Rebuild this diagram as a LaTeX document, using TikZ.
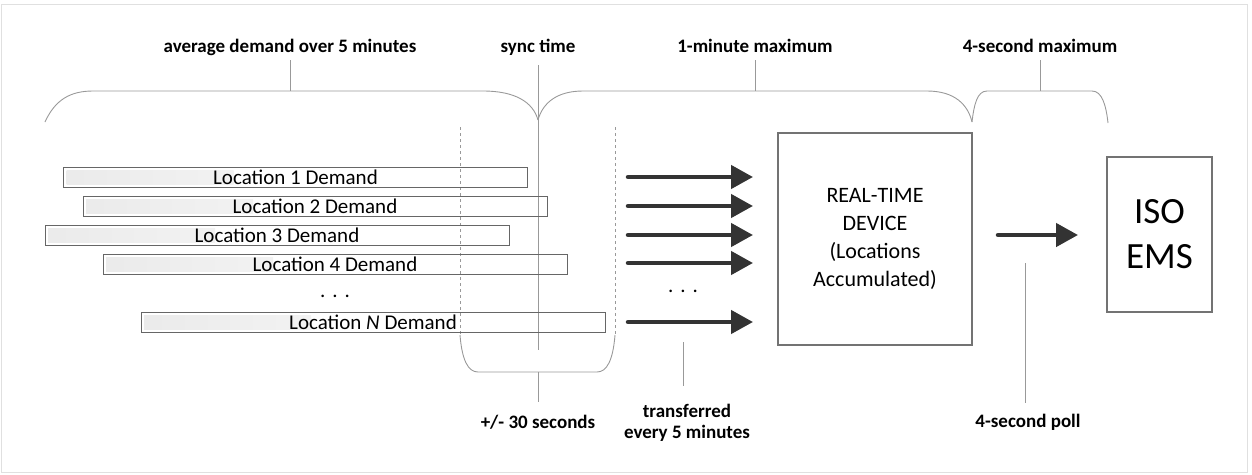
\documentclass[tikz,border=0pt]{standalone}
\usepackage{fontspec}
\setmainfont{Carlito}
\usetikzlibrary{arrows.meta}

\begin{document}
\begin{tikzpicture}[x=1pt, y=-1pt,
		bar/.style={draw=black!60, line width=1pt, minimum width=464pt, minimum height=20pt, inner sep=0pt,
			font=\fontsize{21}{24}\selectfont,
			path picture={\shade[left color=black!8, right color=white]
				([xshift=3pt, yshift=-3pt]path picture bounding box.north west)
				rectangle ([xshift=170pt, yshift=3pt]path picture bounding box.south west);}},
		box/.style={draw=black!55, line width=1.1pt, inner sep=0pt, align=center},
		lbl/.style={font=\bfseries\fontsize{19}{21}\selectfont, inner sep=0pt, align=center},
		guide/.style={draw=black!40, line width=0.9pt},
		sep/.style={draw=black!40, line width=0.8pt, dash pattern=on 3pt off 3pt},
		flow/.style={draw=black!80, line width=4.5pt, line cap=round, -{Triangle[length=22pt, width=23pt]}}]
	\useasboundingbox (0,0) rectangle (1252,474);
	\draw[black!12] (1,4) rectangle (1247,472);

	% labels on top
	\node[lbl, anchor=base] (avgLbl) at (290,52) {average demand over 5 minutes};
	\node[lbl, anchor=base] (syncLbl) at (538,52) {sync time};
	\node[lbl, anchor=base] (minLbl) at (755,52) {1-minute maximum};
	\node[lbl, anchor=base] (secLbl) at (1040,52) {4-second maximum};

	\coordinate (avgTop) at (290,91);
	\coordinate (syncFoot) at (538,350);
	\coordinate (minTop) at (755,91);
	\coordinate (secTop) at (1040,91);
	\draw[guide] ([yshift=-8pt]avgLbl.base) -- (avgTop);
	\draw[guide] ([yshift=-13pt]syncLbl.base) -- (syncFoot);
	\draw[guide] ([yshift=-8pt]minLbl.base) -- (minTop);
	\draw[guide] ([yshift=-8pt]secLbl.base) -- (secTop);

	% braces
	\draw[guide] (45,122) .. controls (55,100) and (70,91) .. (93,91) -- (483,91)
		.. controls (515,91) and (533,102) .. (538,120);
	\draw[guide] (538,120) .. controls (543,102) and (558,91) .. (583,91) -- (927,91)
		.. controls (955,91) and (968,105) .. (972,122);
	\draw[guide] (972,122) .. controls (974,105) and (977,91) .. (987,91) -- (1092,91)
		.. controls (1102,91) and (1106,105) .. (1108,123);
	\draw[sep] (460,127) -- (460,335);
	\draw[sep] (615,127) -- (615,335);
	\draw[guide] (460,335) .. controls (462,360) and (468,372) .. (478,372) -- (597,372)
		.. controls (607,372) and (613,360) .. (615,335);

	% demand bars
	\foreach \x/\y/\n in {295.5/177/1, 315/206/2, 277/235/3, 335/264/4}
		\node[bar] (loc\n) at (\x,\y) {Location \n\ Demand};
	\node[font=\fontsize{21}{24}\selectfont, anchor=base] (dotsL) at (335,297) {.\,\,.\,\,.};
	\node[bar] (locN) at (373,322) {Location \textit{N} Demand};

	% arrows into the device
	\foreach \y [count=\i] in {177,206,235,263,322} {
		\coordinate (tail\i) at (628,\y);
		\coordinate (tip\i) at (753,\y);
		\draw[flow] (tail\i) -- (tip\i);
	}
	\node[font=\fontsize{21}{24}\selectfont, anchor=base] (dotsR) at (683,292) {.\,\,.\,\,.};

	\node[box, minimum width=194pt, minimum height=212pt, font=\fontsize{22}{28}\selectfont]
		(rtd) at (875,239) {REAL-TIME\\DEVICE\\(Locations\\Accumulated)};
	\node[box, minimum width=105pt, minimum height=155pt, font=\fontsize{37}{45}\selectfont]
		(iso) at (1159.5,234.5) {ISO\\EMS};

	\coordinate (pollTail) at (998,235);
	\coordinate (pollTip) at (1078,235);
	\draw[flow] (pollTail) -- (pollTip);

	% labels below
	\node[lbl, anchor=base] (plusLbl) at (538,428) {+/- 30 seconds};
	\node[lbl] (xferLbl) at (687,423) {transferred\\every 5 minutes};
	\node[lbl, anchor=base] (pollLbl) at (1028,427) {4-second poll};

	\coordinate (syncLow) at (538,372);
	\coordinate (xferTop) at (683,342);
	\coordinate (pollTop) at (1025,263);
	\draw[guide] (syncLow) -- ([yshift=26pt]plusLbl.base);
	\draw[guide] (xferTop) -- ([xshift=-4pt, yshift=18pt]xferLbl.north);
	\draw[guide] (pollTop) -- ([xshift=-3pt, yshift=24pt]pollLbl.base);
\end{tikzpicture}
\end{document}
